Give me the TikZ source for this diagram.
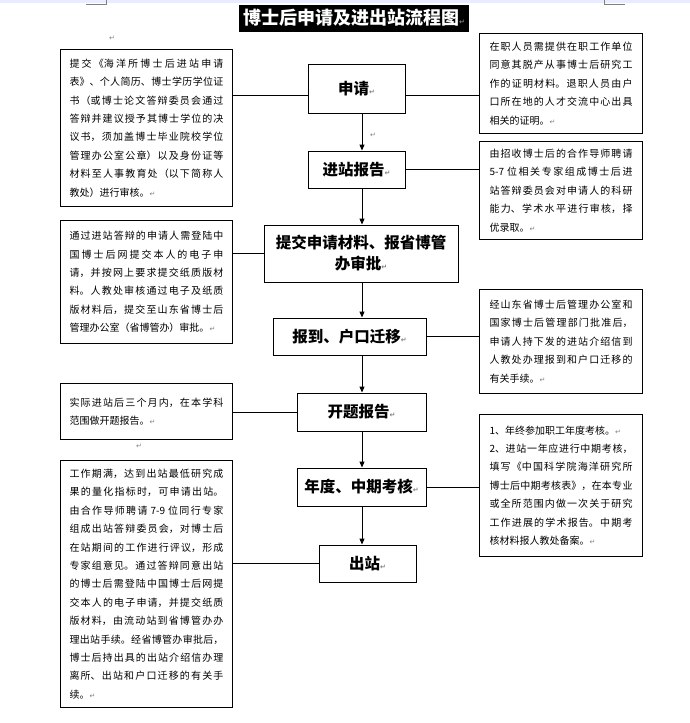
\documentclass[tikz,border=0pt]{standalone}
\usepackage{fontspec}
\usepackage{xcolor}
\newfontfamily\cjk{Noto Sans CJK SC}
\newfontfamily\sym{DejaVu Sans}
\usetikzlibrary{positioning,arrows.meta}
\XeTeXlinebreaklocale "zh"
\XeTeXlinebreakskip=0pt plus 2pt
\newcommand{\lnbr}{\linebreak}
\newcommand{\retmark}{{\sym\color{gray}\fontsize{7}{7}\selectfont ↵}}

\tikzset{
  stage/.style={draw, line width=1pt, inner sep=2pt,
    font=\cjk\bfseries\fontsize{15.5}{21}\selectfont},
  note/.style={draw, line width=1pt, anchor=north west, align=justify,
    inner ysep=5pt, font=\cjk\fontsize{10}{18.4}\selectfont},
  leftnote/.style={note, text width=154pt, inner xsep=9pt},
  rightnote/.style={note, text width=143pt, inner xsep=10pt},
  link/.style={line width=1pt},
  flow/.style={line width=1pt, -{Triangle[width=5pt,length=6pt]}}
}

\begin{document}
\begin{tikzpicture}[x=1pt, y=-1pt]
  \useasboundingbox (0,0) rectangle (690,723);

  % Page marks
  \fill[blue!8] (0,0) rectangle (690,2.5);
  \draw[gray, line width=0.6pt] (86,4) -- (106,4) -- (106,0);
  \draw[gray, line width=0.6pt] (625,4) -- (604,4) -- (604,0);

  % Title
  \node[fill=black, text=white, inner xsep=4pt, minimum height=27pt,
    font=\cjk\bfseries\fontsize{18}{20}\selectfont] (title) at (354,18)
    {博士后申请及进出站流程图\retmark};
  \node (mk1) at (112,38) {\retmark};

  % Stages
  \node[stage, minimum width=97pt, minimum height=49pt] (shen) at (356.5,88.5) {申请\retmark};
  \node[stage, minimum width=97pt, minimum height=37pt] (jin) at (356.5,169.5) {进站报告\retmark};
  \node[stage, minimum width=194pt, minimum height=57pt, align=center] (tijiao) at (361,253.5)
    {提交申请材料、报省博管\\办审批\retmark};
  \node[stage, minimum width=153pt, minimum height=37pt] (baodao) at (349.5,336.5) {报到、户口迁移\retmark};
  \node[stage, minimum width=129pt, minimum height=38pt] (kaiti) at (361.5,412) {开题报告\retmark};
  \node[stage, minimum width=129pt, minimum height=38pt] (niandu) at (361.5,487) {年度、中期考核\retmark};
  \node[stage, minimum width=97pt, minimum height=37pt] (chuzhan) at (367.5,563.5) {出站\retmark};
  \node (mk2) at (373,135) {\retmark};

  % Left notes
  \node[leftnote, minimum height=157pt] (l1) at (60,49)
    {提交《海洋所博士后进站申请\lnbr 表》、个人简历、博士学历学位证\lnbr
     书（或博士论文答辩委员会通过\lnbr 答辩并建议授予其博士学位的决\lnbr
     议书，须加盖博士毕业院校学位\lnbr 管理办公室公章）以及身份证等\lnbr
     材料至人事教育处（以下简称人\lnbr 教处）进行审核。\retmark};
  \node[leftnote, minimum height=123pt] (l2) at (60,220)
    {通过进站答辩的申请人需登陆中\lnbr 国博士后网提交本人的电子申\lnbr
     请，并按网上要求提交纸质版材\lnbr 料。人教处审核通过电子及纸质\lnbr
     版材料后，提交至山东省博士后\lnbr 管理办公室（省博管办）审批。\retmark};
  \node[leftnote, minimum height=56pt] (l3) at (60,383)
    {实际进站后三个月内，在本学科\lnbr 范围做开题报告。\retmark};
  \node (mk3) at (139,446) {\retmark};
  \node[leftnote, minimum height=247pt] (l4) at (60,460)
    {工作期满，达到出站最低研究成\lnbr 果的量化指标时，可申请出站。\lnbr
     由合作导师聘请 7-9 位同行专家\lnbr 组成出站答辩委员会，对博士后\lnbr
     在站期间的工作进行评议，形成\lnbr 专家组意见。通过答辩同意出站\lnbr
     的博士后需登陆中国博士后网提\lnbr 交本人的电子申请，并提交纸质\lnbr
     版材料，由流动站到省博管办办\lnbr 理出站手续。经省博管办审批后，\lnbr
     博士后持出具的出站介绍信办理\lnbr 离所、出站和户口迁移的有关手\lnbr
     续。\retmark};

  % Right notes
  \node[rightnote, minimum height=100pt] (r1) at (479,33)
    {在职人员需提供在职工作单位\lnbr 同意其脱产从事博士后研究工\lnbr
     作的证明材料。退职人员由户\lnbr 口所在地的人才交流中心出具\lnbr
     相关的证明。\retmark};
  \node[rightnote, minimum height=98pt] (r2) at (479,141)
    {由招收博士后的合作导师聘请\lnbr 5-7 位相关专家组成博士后进\lnbr
     站答辩委员会对申请人的科研\lnbr 能力、学术水平进行审核，择\lnbr
     优录取。\retmark};
  \node[rightnote, minimum height=104pt] (r3) at (479,289)
    {经山东省博士后管理办公室和\lnbr 国家博士后管理部门批准后，\lnbr
     申请人持下发的进站介绍信到\lnbr 人教处办理报到和户口迁移的\lnbr
     有关手续。\retmark};
  \node[rightnote, minimum height=142pt] (r4) at (479,414)
    {1、年终参加职工年度考核。\retmark\par
     2、进站一年应进行中期考核，\lnbr 填写《中国科学院海洋研究所\lnbr
     博士后中期考核表》，在本专业\lnbr 或全所范围内做一次关于研究\lnbr
     工作进展的学术报告。中期考\lnbr 核材料报人教处备案。\retmark};

  % Links
  \draw[link] (l1.east |- 0,95) -- (shen.west |- 0,95);
  \draw[link] (shen.east |- 0,95) -- (r1.west |- 0,95);
  \draw[link] (jin.east) -- (r2.west |- jin.east);
  \draw[link] (l2.east |- tijiao.west) -- (tijiao.west);
  \draw[link] (baodao.east) -- (r3.west |- baodao.east);
  \draw[link] (l3.east |- kaiti.west) -- (kaiti.west);
  \draw[link] (niandu.east) -- (r4.west |- niandu.east);
  \draw[link] (l4.east |- chuzhan.west) -- (chuzhan.west);

  % Arrows
  \coordinate (axis) at (362,0);
  \draw[flow] (shen.south -| axis) -- (jin.north -| axis);
  \draw[flow] (jin.south -| axis) -- (tijiao.north -| axis);
  \draw[flow] (tijiao.south -| axis) -- (baodao.north -| axis);
  \draw[flow] (baodao.south -| axis) -- (kaiti.north -| axis);
  \draw[flow] (kaiti.south -| axis) -- (niandu.north -| axis);
  \draw[flow] (niandu.south -| axis) -- (chuzhan.north -| axis);
\end{tikzpicture}
\end{document}
